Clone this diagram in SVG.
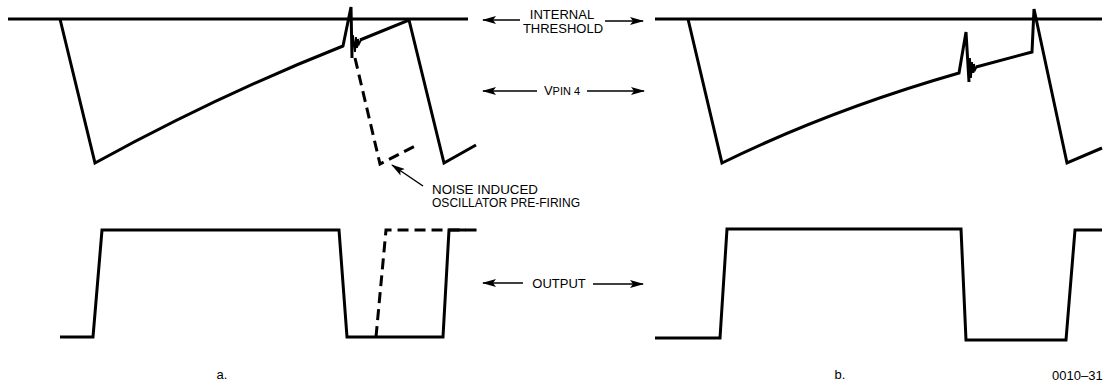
<svg xmlns="http://www.w3.org/2000/svg" width="1104" height="383" viewBox="0 0 1104 383">
<style>
.w{fill:none;stroke:#000;stroke-width:3;stroke-linejoin:miter;stroke-linecap:butt}
.d{fill:none;stroke:#000;stroke-width:3;stroke-dasharray:11 6}
.r{fill:none;stroke:#000;stroke-width:1.8}
.a{fill:none;stroke:#000;stroke-width:1.5}
.t{font-family:"Liberation Sans",Arial,sans-serif;font-size:13px;fill:#000}
</style>
<defs>
<marker id="ah" markerWidth="14" markerHeight="8" refX="13" refY="4" orient="auto" markerUnits="userSpaceOnUse">
<path d="M0,0 L14,4 L0,8 L3,4 Z" fill="#000"/>
</marker>
</defs>
<g id="panel-a">
<g id="a-threshold"><path class="w" d="M8,19 H468"/></g>
<g id="a-vpin4">
<path class="w" d="M60,19 L95,163 Q219,95 343,46 L351,7 L352,58"/>
<path class="r" d="M352,58 L353,35 L355,52 L356,37 L357,48 L358,39 L359,44 L361,40"/>
<path class="w" d="M360,40 L409,20 L444,163 L476,145"/>
<path class="d" d="M355,58 L380,164 L419,144"/>
</g>
<g id="a-output">
<path class="w" d="M60,337 H93 L102,230 H339 L347,337 H443 L449,230 H466"/>
<path class="d" d="M376,337 L386,230 H478"/>
</g>
<g id="a-note">
<text class="t" x="432" y="194" font-size="13" textLength="106" lengthAdjust="spacingAndGlyphs">NOISE INDUCED</text>
<text class="t" x="432" y="207" font-size="13" textLength="148" lengthAdjust="spacingAndGlyphs">OSCILLATOR PRE-FIRING</text>
</g>
<text class="t" x="222" y="379" text-anchor="middle" font-size="12">a.</text>
</g>
<g id="panel-b">
<g id="b-threshold"><path class="w" d="M655,19 H1102"/></g>
<g id="b-vpin4">
<path class="w" d="M688,19 L722,163 Q830,110 959,73 L966,32 L969,82"/>
<path class="r" d="M969,82 L970,58 L971,78 L972,62 L973,73 L974,64 L975,70 L977,66"/>
<path class="w" d="M976,67 L1032,52 L1034,9 L1067,163 L1102,148"/>
</g>
<g id="b-output">
<path class="w" d="M655,338 H720 L727,229 H961 L966,340 H1066 L1075,230 H1102"/>
</g>
<text class="t" x="840" y="379" text-anchor="middle" font-size="12">b.</text>
<text class="t" x="1052" y="380" font-size="11">0010–31</text>
</g>
<g id="connectors">
<path class="a" d="M520,20 H483" marker-end="url(#ah)"/>
<path class="a" d="M605,21 H643" marker-end="url(#ah)"/>
<path class="a" d="M537,91 H483" marker-end="url(#ah)"/>
<path class="a" d="M587,91 H644" marker-end="url(#ah)"/>
<path class="a" d="M523,283 H483" marker-end="url(#ah)"/>
<path class="a" d="M593,284 H643" marker-end="url(#ah)"/>
<path class="a" d="M423,186 L392,165" marker-end="url(#ah)"/>
</g>
<g id="labels">
<text class="t" x="562" y="19" text-anchor="middle" font-size="14">INTERNAL</text>
<text class="t" x="563" y="33" text-anchor="middle" font-size="14">THRESHOLD</text>
<text class="t" x="562" y="95" text-anchor="middle" font-size="14">V<tspan font-size="11">PIN 4</tspan></text>
<text class="t" x="559" y="288" text-anchor="middle" font-size="13.5">OUTPUT</text>
</g>
</svg>
